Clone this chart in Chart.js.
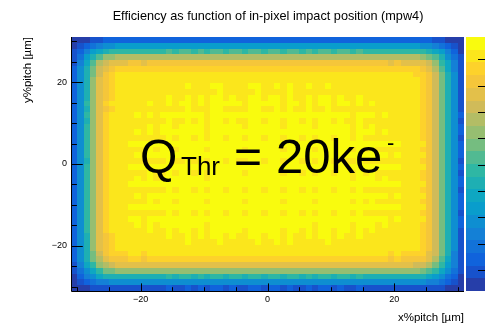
<!DOCTYPE html>
<html><head><meta charset="utf-8">
<script src="https://cdn.jsdelivr.net/npm/chart.js@4.4.0/dist/chart.umd.min.js"></script>
<style>html,body{margin:0;padding:0;background:#fff;overflow:hidden}canvas{display:block}</style>
</head><body>
<canvas id="c" width="485" height="325"></canvas>
<script>
// ---- data ----
const xRange = [-31, 31];
const yRange = [-31, 31];
// efficiency profile along x (left -> right), one value per x bin
const xProfile = [0.14,0.30,0.47,0.63,0.78,0.87,0.92,0.95,
  0.951,0.956,0.961,0.954,0.966,0.958,0.964,0.971,0.961,0.968,
  0.976,0.964,0.971,0.958,0.974,0.978,0.966,0.972,0.968,0.961,
  0.974,0.98,0.966,0.971,0.976,0.962,0.978,0.97,0.964,0.974,
  0.96,0.971,0.976,0.964,0.972,0.968,0.958,0.971,0.962,0.966,
  0.958,0.962,0.954,0.958,0.951,0.946,
  0.94,0.91,0.85,0.75,0.60,0.44,0.28,0.12];
// efficiency profile along y (bottom -> top), one value per y bin
const yProfile = [0.12,0.29,0.47,0.64,0.79,0.88,0.93,
  0.955,0.96,0.965,0.97,0.975,0.98,0.968,0.982,0.972,0.978,
  0.968,0.984,0.976,0.97,0.982,0.966,0.978,0.972,0.982,0.968,
  0.976,0.972,0.966,0.976,0.962,0.97,0.965,0.958,0.962,0.955,
  0.94,0.90,0.83,0.70,0.52,0.33,0.14];
const xTickLabels = [-20, 0, 20];
const yTickLabels = [-20, 0, 20];
const zRange = [0.02, 0.985];
const paletteTicks = [0.1,0.2,0.3,0.4,0.5,0.6,0.7,0.8,0.9];
const nContours = 20;
const titleText = 'Efficiency as function of in-pixel impact position (mpw4)';
const xTitle = 'x%pitch [\u00b5m]';
const yTitle = 'y%pitch [\u00b5m]';

// ---- palette (ROOT kBird) ----
const stops = [0,0.125,0.25,0.375,0.5,0.625,0.75,0.875,1];
const pr = [0.2082,0.0592,0.0780,0.0232,0.1802,0.5301,0.8186,0.9956,0.9764];
const pg = [0.1664,0.3599,0.5041,0.6419,0.7178,0.7492,0.7328,0.7862,0.9832];
const pb = [0.5293,0.8684,0.8385,0.7914,0.6425,0.4662,0.3499,0.1968,0.0539];
function palette(f){
  f = Math.max(0, Math.min(1, f));
  let i = 0; while (i < stops.length-2 && f > stops[i+1]) i++;
  const t = (f - stops[i]) / (stops[i+1] - stops[i]);
  const c = a => Math.round(255*(a[i] + t*(a[i+1]-a[i])));
  return 'rgb(' + c(pr) + ',' + c(pg) + ',' + c(pb) + ')';
}
const bandColors = [];
for (let k = 0; k < nContours; k++) bandColors.push(palette((k+0.99)/nContours));
function colorFor(v){
  let k = Math.floor((v - zRange[0]) / (zRange[1]-zRange[0]) * nContours);
  k = Math.max(0, Math.min(nContours-1, k));
  return bandColors[k];
}

// ---- cells ----
const nx = xProfile.length, ny = yProfile.length;
const dx = (xRange[1]-xRange[0])/nx, dy = (yRange[1]-yRange[0])/ny;
const cells = [];
for (let j = 0; j < ny; j++) for (let i = 0; i < nx; i++) {
  const x0 = xRange[0] + i*dx, y0 = yRange[0] + j*dy;
  cells.push({x: x0 + dx/2, y: y0 + dy/2, x0, x1: x0+dx, y0, y1: y0+dy, v: xProfile[i]*yProfile[j]});
}

const FONT = '"Liberation Sans", Arial, Helvetica, sans-serif';

const heatPlugin = {
  id: 'heat',
  beforeDatasetsDraw(chart){
    const {ctx} = chart, xs = chart.scales.x, ys = chart.scales.y;
    ctx.save();
    for (const c of chart.data.datasets[0].data) {
      const px0 = Math.round(xs.getPixelForValue(c.x0)), px1 = Math.round(xs.getPixelForValue(c.x1));
      const py0 = Math.round(ys.getPixelForValue(c.y0)), py1 = Math.round(ys.getPixelForValue(c.y1));
      ctx.fillStyle = colorFor(c.v);
      ctx.fillRect(px0, py1, px1-px0, py0-py1);
    }
    ctx.restore();
  },
  afterDatasetsDraw(chart){
    const {ctx, chartArea: a} = chart, xs = chart.scales.x, ys = chart.scales.y;
    ctx.save();
    ctx.strokeStyle = '#000'; ctx.lineWidth = 1;
    // axis lines
    ctx.beginPath();
    ctx.moveTo(a.left+0.5, a.top); ctx.lineTo(a.left+0.5, a.bottom+0.5); ctx.lineTo(a.right, a.bottom+0.5);
    ctx.stroke();
    // inner ticks
    const hMaj = 0.03*(a.bottom-a.top), wMaj = 0.03*(a.right-a.left);
    ctx.beginPath();
    for (let v = -30; v <= 30; v += 5) {
      const major = v % 20 === 0;
      const px = Math.round(xs.getPixelForValue(v)) + 0.5;
      ctx.moveTo(px, a.bottom); ctx.lineTo(px, a.bottom - (major ? hMaj : hMaj/2));
      const py = Math.round(ys.getPixelForValue(v)) + 0.5;
      ctx.moveTo(a.left, py); ctx.lineTo(a.left + (major ? wMaj : wMaj/2), py);
    }
    ctx.stroke();
    // colour bar
    const bx = a.right + 2, bw = 30, top = a.top, bot = a.bottom;
    for (let k = 0; k < nContours; k++) {
      const y0 = Math.round(bot - k*(bot-top)/nContours), y1 = Math.round(bot - (k+1)*(bot-top)/nContours);
      ctx.fillStyle = bandColors[k];
      ctx.fillRect(bx, y1, bw, y0-y1);
    }
    ctx.beginPath();
    for (const t of paletteTicks) {
      const py = Math.round(bot - (t - zRange[0])/(zRange[1]-zRange[0])*(bot-top)) + 0.5;
      ctx.moveTo(a.right + 14, py); ctx.lineTo(a.right + 24, py);
    }
    ctx.stroke();
    // title
    ctx.fillStyle = '#000'; ctx.textAlign = 'center'; ctx.textBaseline = 'middle';
    ctx.font = '12.7px ' + FONT; ctx.fillText(titleText, 268, 16);
    // annotation
    ctx.textAlign = 'left'; ctx.textBaseline = 'alphabetic';
    ctx.font = '48px ' + FONT; ctx.fillText('Q', 140, 173);
    ctx.font = '26px ' + FONT; ctx.fillText('Thr', 181, 175);
    ctx.font = '48px ' + FONT; ctx.fillText('=', 234, 173);
    ctx.font = '49px ' + FONT; ctx.fillText('20ke', 276, 173);
    ctx.font = '22px ' + FONT; ctx.fillText('-', 387, 150);
    ctx.restore();
  }
};

const tickCb = v => (v < 0 ? '\u2212' + (-v) : '' + v);

new Chart(document.getElementById('c'), {
  type: 'scatter',
  data: { datasets: [{ data: cells, pointRadius: 0, pointHoverRadius: 0, showLine: false }] },
  options: {
    responsive: false, animation: false, devicePixelRatio: 1, events: [],
    layout: { padding: { left: 0, right: 21, top: 37, bottom: 0 } },
    plugins: { legend: { display: false }, tooltip: { enabled: false }, title: { display: false } },
    scales: {
      x: { type: 'linear', min: xRange[0], max: xRange[1],
        afterBuildTicks: s => { s.ticks = xTickLabels.map(v => ({ value: v })); },
        afterFit: s => { s.height = 34; },
        grid: { display: false, drawTicks: false }, border: { display: false },
        ticks: { autoSkip: false, maxRotation: 0, padding: 3, color: '#000', font: { family: FONT, size: 9 }, callback: tickCb },
        title: { display: true, text: xTitle, align: 'end', color: '#000', font: { family: FONT, size: 11.5 }, padding: { top: 0, bottom: 0 } } },
      y: { type: 'linear', min: yRange[0], max: yRange[1],
        afterBuildTicks: s => { s.ticks = yTickLabels.map(v => ({ value: v })); },
        afterFit: s => { s.width = 71; },
        grid: { display: false, drawTicks: false }, border: { display: false },
        ticks: { autoSkip: false, padding: 4, color: '#000', font: { family: FONT, size: 9 }, callback: tickCb },
        title: { display: true, text: yTitle, align: 'end', color: '#000', font: { family: FONT, size: 11.5 }, padding: { top: 21, bottom: 0 } } }
    }
  },
  plugins: [heatPlugin]
});
</script>
</body></html>
